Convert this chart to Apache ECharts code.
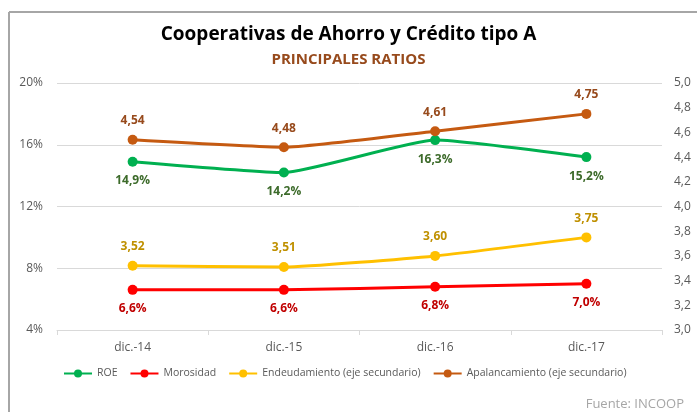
<!DOCTYPE html>
<html>
<head>
<meta charset="utf-8">
<script src="https://cdn.jsdelivr.net/npm/echarts@6/dist/echarts.min.js"></script>
<style>
html, body { margin: 0; padding: 0; background: #fff; }
#chart { width: 697px; height: 412px; }
</style>
</head>
<body>
<div id="chart"></div>
<script>
// datos
var periodos = ['dic.-14', 'dic.-15', 'dic.-16', 'dic.-17'];
var roe = [14.9, 14.2, 16.3, 15.2];
var morosidad = [6.6, 6.6, 6.8, 7.0];
var endeudamiento = [3.52, 3.51, 3.60, 3.75];
var apalancamiento = [4.54, 4.48, 4.61, 4.75];

var font = 'Open Sans, Lato, sans-serif';

function coma(v, dec) {
  return v.toFixed(dec).replace('.', ',');
}

function serie(name, data, color, labelColor, yIdx, pos, fmt) {
  return {
    name: name,
    type: 'line',
    data: data,
    yAxisIndex: yIdx,
    symbol: 'circle',
    symbolSize: 10,
    smooth: 0.15,
    lineStyle: { width: 3, color: color },
    itemStyle: { color: color },
    label: {
      show: true,
      position: pos,
      distance: 8,
      color: labelColor,
      fontWeight: 'bold',
      fontSize: 12,
      fontFamily: font,
      formatter: fmt
    }
  };
}

var chart = echarts.init(document.getElementById('chart'));
chart.setOption({
  animation: false,
  textStyle: { fontFamily: font },
  title: [{
    text: 'Cooperativas de Ahorro y Crédito tipo A',
    left: 'center',
    top: 20,
    textStyle: { fontSize: 19, fontWeight: 'bold', color: '#000', fontFamily: font }
  }, {
    text: 'PRINCIPALES RATIOS',
    left: 'center',
    top: 47,
    textStyle: { fontSize: 15, fontWeight: 'bold', color: '#974a1c', fontFamily: font }
  }, {
    text: 'Fuente: INCOOP',
    right: 8,
    top: 393,
    textStyle: { fontSize: 13, fontWeight: 'normal', color: '#a6a6a6', fontFamily: font }
  }],
  graphic: [
    { type: 'line', shape: { x1: 9, y1: 12, x2: 697, y2: 12 }, style: { stroke: '#a6a6a6', lineWidth: 2 } },
    { type: 'line', shape: { x1: 9, y1: 12, x2: 9, y2: 412 }, style: { stroke: '#a6a6a6', lineWidth: 2 } }
  ],
  legend: {
    bottom: 28,
    left: 58,
    itemWidth: 28,
    itemHeight: 10,
    itemGap: 12,
    textStyle: { fontSize: 10.5, color: '#595959', fontFamily: font },
    data: ['ROE', 'Morosidad', 'Endeudamiento (eje secundario)', 'Apalancamiento (eje secundario)']
  },
  grid: { left: 57, right: 35, top: 83, bottom: 82 },
  xAxis: {
    type: 'category',
    data: periodos,
    axisLine: { lineStyle: { color: '#d9d9d9' } },
    axisTick: { show: true, lineStyle: { color: '#d9d9d9' } },
    axisLabel: { color: '#595959', fontSize: 12, margin: 12 }
  },
  yAxis: [{
    type: 'value',
    min: 4, max: 20, interval: 4,
    axisLine: { show: false },
    axisTick: { show: false },
    splitLine: { lineStyle: { color: '#d9d9d9' } },
    axisLabel: { color: '#595959', fontSize: 12, margin: 14, formatter: function (v) { return v + '%'; } }
  }, {
    type: 'value',
    min: 3, max: 5, interval: 0.2,
    axisLine: { show: false },
    axisTick: { show: false },
    splitLine: { show: false },
    axisLabel: { color: '#595959', fontSize: 12, margin: 12, formatter: function (v) { return coma(v, 1); } }
  }],
  series: [
    serie('ROE', roe, '#00b050', '#3d6b2b', 0, 'bottom', function (p) { return coma(p.value, 1) + '%'; }),
    serie('Morosidad', morosidad, '#ff0000', '#c00000', 0, 'bottom', function (p) { return coma(p.value, 1) + '%'; }),
    serie('Endeudamiento (eje secundario)', endeudamiento, '#ffc000', '#bf9000', 1, 'top', function (p) { return coma(p.value, 2); }),
    serie('Apalancamiento (eje secundario)', apalancamiento, '#c55a11', '#974a1c', 1, 'top', function (p) { return coma(p.value, 2); })
  ]
});
</script>
</body>
</html>
